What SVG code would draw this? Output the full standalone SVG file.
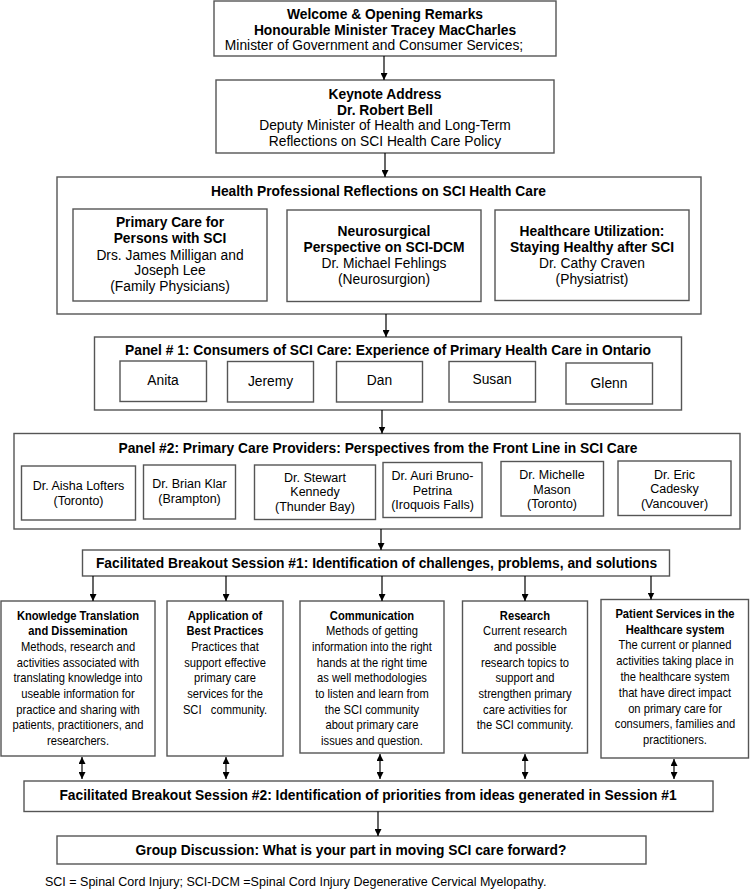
<svg xmlns="http://www.w3.org/2000/svg" width="750" height="896" viewBox="0 0 750 896">
<style>
text{font-family:"Liberation Sans",Arial,sans-serif;font-size:13.8px;fill:#000;text-anchor:middle}
.b{font-weight:bold}
.s{font-size:12.5px}
.n{font-size:13px}
.fn{font-size:12.5px;text-anchor:start}
rect{fill:#fff;stroke:#555;stroke-width:1.4}
.conn line{stroke:#000;stroke-width:1.2}
</style>
<defs>
<marker id="ah" viewBox="0 0 10 10" refX="10" refY="5" markerWidth="7" markerHeight="7" markerUnits="userSpaceOnUse" orient="auto-start-reverse">
<path d="M0,0 L10,5 L0,10 z" fill="#000"/>
</marker>
</defs>
<rect x="0" y="0" width="750" height="896" style="fill:#fff;stroke:none"/>

<g id="welcome">
<rect x="214" y="1" width="342" height="55"/>
<text class="b" x="385" y="19">Welcome &amp; Opening Remarks</text>
<text class="b" x="385" y="34.5">Honourable Minister Tracey MacCharles</text>
<text x="374" y="50">Minister of Government and Consumer Services;</text>
</g>

<g id="keynote">
<rect x="216" y="80" width="338" height="73"/>
<text class="b" x="385" y="99">Keynote Address</text>
<text class="b" x="385" y="114.5">Dr. Robert Bell</text>
<text x="385" y="130">Deputy Minister of Health and Long-Term</text>
<text x="385" y="145.5">Reflections on SCI Health Care Policy</text>
</g>

<g id="health-prof">
<rect x="57" y="177" width="644" height="137"/>
<text class="b" x="378.5" y="196">Health Professional Reflections on SCI Health Care</text>
<g id="primary-care">
<rect x="73" y="209" width="194" height="92"/>
<text class="b" x="170" y="227">Primary Care for</text>
<text class="b" x="170" y="243">Persons with SCI</text>
<text x="170" y="259.5">Drs. James Milligan and</text>
<text x="170" y="275">Joseph Lee</text>
<text x="170" y="291">(Family Physicians)</text>
</g>
<g id="neurosurgical">
<rect x="287" y="210" width="194" height="91.5"/>
<text class="b" x="384" y="236">Neurosurgical</text>
<text class="b" x="384" y="252">Perspective on SCI-DCM</text>
<text x="384" y="268">Dr. Michael Fehlings</text>
<text x="384" y="283.5">(Neurosurgion)</text>
</g>
<g id="utilization">
<rect x="495" y="210" width="194" height="90.5"/>
<text class="b" x="592" y="235.5">Healthcare Utilization:</text>
<text class="b" x="592" y="251.5">Staying Healthy after SCI</text>
<text x="592" y="268">Dr. Cathy Craven</text>
<text x="592" y="283.5">(Physiatrist)</text>
</g>
</g>

<g id="panel1">
<rect x="94.5" y="337" width="587" height="73"/>
<text class="b" x="388" y="355">Panel # 1: Consumers of SCI Care: Experience of Primary Health Care in Ontario</text>
<g id="anita"><rect x="120" y="361" width="86.5" height="40.5"/><text x="163" y="385">Anita</text></g>
<g id="jeremy"><rect x="227.5" y="361.5" width="86" height="40.5"/><text x="270.5" y="385.5">Jeremy</text></g>
<g id="dan"><rect x="336.5" y="361.5" width="86" height="40.5"/><text x="379.5" y="385">Dan</text></g>
<g id="susan"><rect x="449" y="361.5" width="86.5" height="40.5"/><text x="492" y="384">Susan</text></g>
<g id="glenn"><rect x="566" y="363" width="86.5" height="41"/><text x="609" y="388">Glenn</text></g>
</g>

<g id="panel2">
<rect x="14" y="433.5" width="726" height="95.5"/>
<text class="b" x="378" y="453">Panel #2: Primary Care Providers: Perspectives from the Front Line in SCI Care</text>
<g id="lofters"><rect x="21.5" y="466" width="114" height="54"/><text class="s" x="78.5" y="490">Dr. Aisha Lofters</text><text class="s" x="78.5" y="505">(Toronto)</text></g>
<g id="klar"><rect x="143.5" y="465" width="92" height="54"/><text class="s" x="189.5" y="488">Dr. Brian Klar</text><text class="s" x="189.5" y="503">(Brampton)</text></g>
<g id="kennedy"><rect x="254.5" y="465" width="121" height="54.5"/><text class="s" x="315" y="481.5">Dr. Stewart</text><text class="s" x="315" y="496">Kennedy</text><text class="s" x="315" y="510.5">(Thunder Bay)</text></g>
<g id="bruno-petrina"><rect x="383" y="462.5" width="99" height="55"/><text class="s" x="432.5" y="480">Dr. Auri Bruno-</text><text class="s" x="432.5" y="494.5">Petrina</text><text class="s" x="432.5" y="509">(Iroquois Falls)</text></g>
<g id="mason"><rect x="501" y="461.5" width="102.5" height="54.5"/><text class="s" x="552" y="479">Dr. Michelle</text><text class="s" x="552" y="493.5">Mason</text><text class="s" x="552" y="508">(Toronto)</text></g>
<g id="cadesky"><rect x="618" y="461" width="113" height="54.5"/><text class="s" x="674.5" y="478.5">Dr. Eric</text><text class="s" x="674.5" y="493">Cadesky</text><text class="s" x="674.5" y="507.5">(Vancouver)</text></g>
</g>

<g id="breakout1">
<rect x="82.5" y="550" width="587" height="26"/>
<text class="b" x="376.5" y="567.5">Facilitated Breakout Session #1: Identification of challenges, problems, and solutions</text>
</g>

<g id="knowledge-translation">
<rect x="1" y="601" width="154" height="155"/>
<g transform="translate(78,0) scale(0.86,1)">
<text class="n b" x="0" y="620">Knowledge Translation</text>
<text class="n b" x="0" y="635.5">and Dissemination</text>
<text class="n" x="0" y="651">Methods, research and</text>
<text class="n" x="0" y="666.7">activities associated with</text>
<text class="n" x="0" y="682.3">translating knowledge into</text>
<text class="n" x="0" y="698">useable information for</text>
<text class="n" x="0" y="713.6">practice and sharing with</text>
<text class="n" x="0" y="729.3">patients, practitioners, and</text>
<text class="n" x="0" y="745">researchers.</text>
</g>
</g>

<g id="best-practices">
<rect x="167" y="601" width="116" height="155"/>
<g transform="translate(225,0) scale(0.86,1)">
<text class="n b" x="0" y="620">Application of</text>
<text class="n b" x="0" y="635.5">Best Practices</text>
<text class="n" x="0" y="651">Practices that</text>
<text class="n" x="0" y="666.7">support effective</text>
<text class="n" x="0" y="682.3">primary care</text>
<text class="n" x="0" y="698">services for the</text>
<text class="n" x="0" y="713.6" xml:space="preserve">SCI   community.</text>
</g>
</g>

<g id="communication">
<rect x="300" y="601" width="144" height="152"/>
<g transform="translate(372,0) scale(0.86,1)">
<text class="n b" x="0" y="620">Communication</text>
<text class="n" x="0" y="635.5">Methods of getting</text>
<text class="n" x="0" y="651">information into the right</text>
<text class="n" x="0" y="666.7">hands at the right time</text>
<text class="n" x="0" y="682.3">as well methodologies</text>
<text class="n" x="0" y="698">to listen and learn from</text>
<text class="n" x="0" y="713.6">the SCI community</text>
<text class="n" x="0" y="729.3">about primary care</text>
<text class="n" x="0" y="745">issues and question.</text>
</g>
</g>

<g id="research">
<rect x="462.5" y="601" width="125" height="152"/>
<g transform="translate(525,0) scale(0.86,1)">
<text class="n b" x="0" y="620">Research</text>
<text class="n" x="0" y="635.5">Current research</text>
<text class="n" x="0" y="651">and possible</text>
<text class="n" x="0" y="666.7">research topics to</text>
<text class="n" x="0" y="682.3">support and</text>
<text class="n" x="0" y="698">strengthen primary</text>
<text class="n" x="0" y="713.6">care activities for</text>
<text class="n" x="0" y="729.3">the SCI community.</text>
</g>
</g>

<g id="patient-services">
<rect x="601" y="599.5" width="147.5" height="158.5"/>
<g transform="translate(675,0) scale(0.86,1)">
<text class="n b" x="0" y="618">Patient Services in the</text>
<text class="n b" x="0" y="633.8">Healthcare system</text>
<text class="n" x="0" y="649.5">The current or planned</text>
<text class="n" x="0" y="665.2">activities taking place in</text>
<text class="n" x="0" y="681">the healthcare system</text>
<text class="n" x="0" y="696.8">that have direct impact</text>
<text class="n" x="0" y="712.6">on primary care for</text>
<text class="n" x="0" y="728.4">consumers, families and</text>
<text class="n" x="0" y="744.2">practitioners.</text>
</g>
</g>

<g id="breakout2">
<rect x="24" y="781" width="689" height="30.5"/>
<text class="b" x="368" y="799.5">Facilitated Breakout Session #2: Identification of priorities from ideas generated in Session #1</text>
</g>

<g id="group-discussion">
<rect x="57" y="836" width="589" height="28"/>
<text class="b" x="351" y="854.5">Group Discussion: What is your part in moving SCI care forward?</text>
</g>

<g id="footnote">
<text class="fn" x="45" y="886">SCI = Spinal Cord Injury; SCI-DCM =Spinal Cord Injury Degenerative Cervical Myelopathy.</text>
</g>

<g id="connectors" class="conn">
<line x1="384" y1="56" x2="384" y2="80" marker-end="url(#ah)"/>
<line x1="385" y1="153" x2="385" y2="177" marker-end="url(#ah)"/>
<line x1="386" y1="314" x2="386" y2="337" marker-end="url(#ah)"/>
<line x1="382" y1="410" x2="382" y2="433.5" marker-end="url(#ah)"/>
<line x1="381" y1="529" x2="381" y2="550" marker-end="url(#ah)"/>
<line x1="93" y1="576" x2="93" y2="601" marker-end="url(#ah)"/>
<line x1="226" y1="576" x2="226" y2="601" marker-end="url(#ah)"/>
<line x1="382" y1="576" x2="382" y2="601" marker-end="url(#ah)"/>
<line x1="525" y1="576" x2="525" y2="601" marker-end="url(#ah)"/>
<line x1="651" y1="576" x2="651" y2="599.5" marker-end="url(#ah)"/>
<line x1="82" y1="757" x2="82" y2="779" marker-start="url(#ah)" marker-end="url(#ah)"/>
<line x1="226" y1="757" x2="226" y2="779" marker-start="url(#ah)" marker-end="url(#ah)"/>
<line x1="380" y1="754" x2="380" y2="779" marker-start="url(#ah)" marker-end="url(#ah)"/>
<line x1="525" y1="754" x2="525" y2="779" marker-start="url(#ah)" marker-end="url(#ah)"/>
<line x1="674" y1="759" x2="674" y2="779" marker-start="url(#ah)" marker-end="url(#ah)"/>
<line x1="378" y1="811.5" x2="378" y2="836" marker-end="url(#ah)"/>
</g>
</svg>
